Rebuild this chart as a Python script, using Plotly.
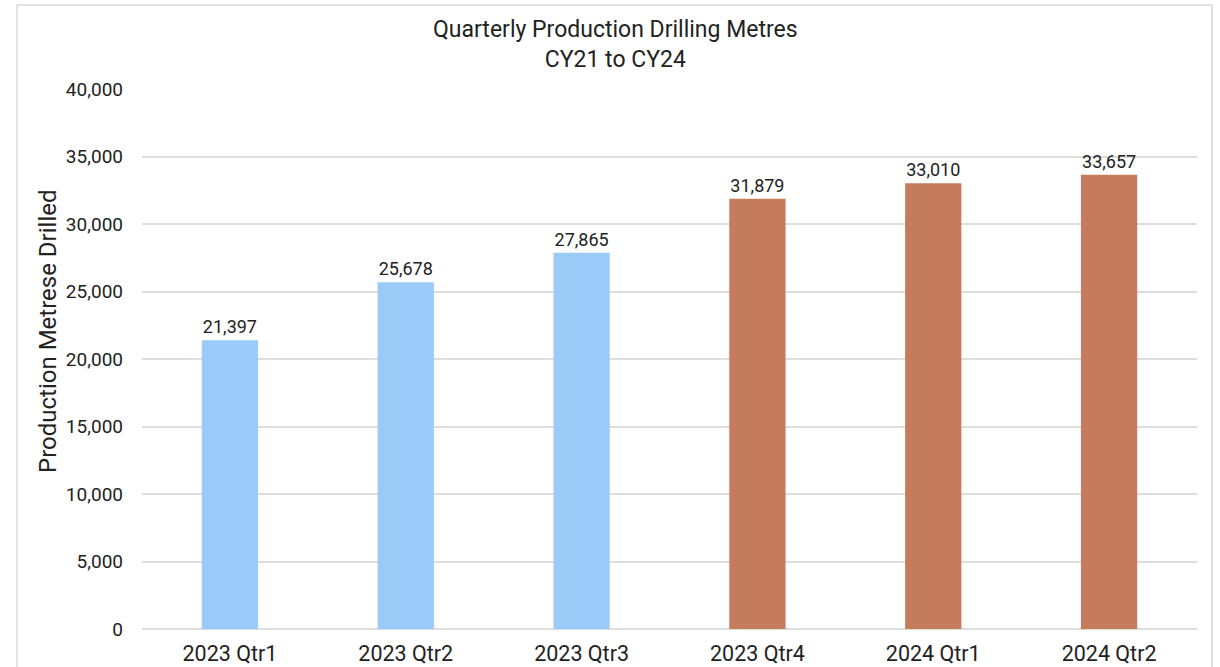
import plotly.graph_objects as go

# Quarterly production drilling metres
quarters = ["2023 Qtr1", "2023 Qtr2", "2023 Qtr3", "2023 Qtr4", "2024 Qtr1", "2024 Qtr2"]
metres = [21397, 25678, 27865, 31879, 33010, 33657]
bar_colors = ["#9ACBF8", "#9ACBF8", "#9ACBF8", "#C57C5C", "#C57C5C", "#C57C5C"]
y_ticks = [0, 5000, 10000, 15000, 20000, 25000, 30000, 35000, 40000]

FONT = "Roboto, Arial, sans-serif"
INK = "#222222"

fig = go.Figure(
    go.Bar(
        x=quarters,
        y=metres,
        marker=dict(color=bar_colors, line=dict(width=0)),
        text=[f"{v:,}" for v in metres],
        textposition="outside",
        textfont=dict(family=FONT, size=18, color=INK),
        cliponaxis=False,
        width=0.32,
    )
)

W, H = 1220, 667
L, R, T, B = 142, 23, 89, 38
pw, ph = W - L - R, H - T - B

def px_to_paper_x(px):
    return (px - L) / pw

def px_to_paper_y(py):
    return (H - B - py) / ph

# Outer chart frame
fig.add_shape(
    type="rect", xref="paper", yref="paper",
    x0=px_to_paper_x(17), x1=px_to_paper_x(1212),
    y0=px_to_paper_y(690), y1=px_to_paper_y(5),
    line=dict(color="#D9D9D9", width=1.5), fillcolor="rgba(0,0,0,0)",
    layer="below",
)

# Two-line chart title
fig.add_annotation(
    text="Quarterly Production Drilling Metres<br>CY21 to CY24",
    xref="paper", yref="paper",
    x=px_to_paper_x(615), y=px_to_paper_y(44),
    xanchor="center", yanchor="middle",
    showarrow=False,
    font=dict(family=FONT, size=23, color=INK),
)

# Vertical axis title
fig.add_annotation(
    text="Production Metrese Drilled",
    xref="paper", yref="paper",
    x=px_to_paper_x(48), y=px_to_paper_y(331),
    xanchor="center", yanchor="middle",
    textangle=-90,
    showarrow=False,
    font=dict(family=FONT, size=24, color=INK),
)

fig.update_layout(
    width=W, height=H,
    margin=dict(l=L, r=R, t=T, b=B, autoexpand=False),
    paper_bgcolor="white",
    plot_bgcolor="white",
    showlegend=False,
    font=dict(family=FONT, size=18, color=INK),
    xaxis=dict(
        automargin=False,
        showgrid=False, showline=False, ticks="",
        ticklabelstandoff=9,
        tickfont=dict(family=FONT, size=21.5, color=INK),
    ),
    yaxis=dict(
        automargin=False,
        range=[0, 40000],
        tickvals=y_ticks,
        ticktext=[f"{v:,}" for v in y_ticks],
        showgrid=True, gridcolor="#DDDDDD", gridwidth=1.5,
        zeroline=True, zerolinecolor="#DDDDDD", zerolinewidth=1.5,
        showline=False, ticks="",
        ticklabelstandoff=18,
        tickfont=dict(family=FONT, size=19, color=INK),
    ),
)

fig.write_html("out.html")
